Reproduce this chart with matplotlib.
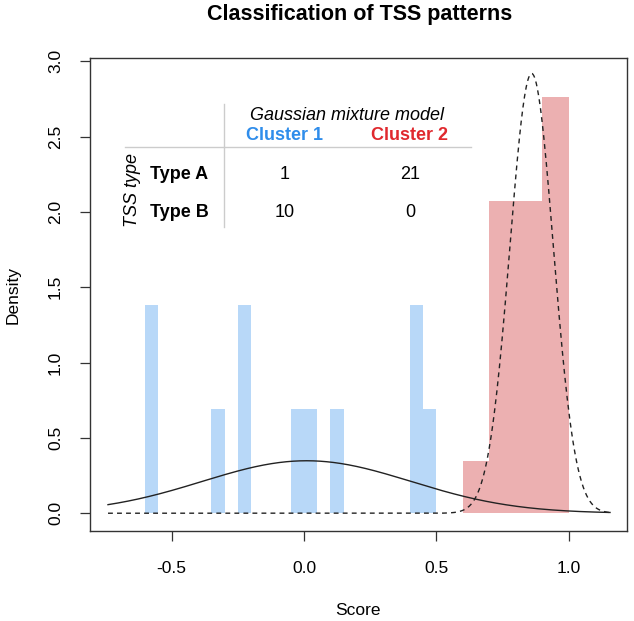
import numpy as np
import matplotlib
matplotlib.use("Agg")
import matplotlib.pyplot as plt

plt.rcParams['font.family'] = ['Liberation Sans', 'DejaVu Sans']

# Histogram of Cluster 1 scores (bin left edges, width, density)
c1_left = [-0.60, -0.35, -0.25, -0.05, 0.00, 0.10, 0.40, 0.45]
c1_width = 0.05
c1_density = [1.38, 0.69, 1.38, 0.69, 0.69, 0.69, 1.38, 0.69]

# Histogram of Cluster 2 scores
c2_left = [0.60, 0.70, 0.80, 0.90]
c2_width = 0.10
c2_density = [0.345, 2.07, 2.07, 2.76]

# Gaussian mixture components (weight, mean, sd)
comp1 = (0.344, 0.01, 0.394)
comp2 = (0.60, 0.86, 0.082)
curve_range = (-0.74, 1.156)

# Contingency table
col_labels = ["Cluster 1", "Cluster 2"]
row_labels = ["Type A", "Type B"]
counts = [[1, 21], [10, 0]]

x_ticks = [-0.5, 0.0, 0.5, 1.0]
y_ticks = [0.0, 0.5, 1.0, 1.5, 2.0, 2.5, 3.0]

blue_fill = "#B8D8F8"
red_fill = "#ECB0B1"
blue_txt = "#2F8DEB"
red_txt = "#E0292E"

fig = plt.figure(figsize=(6.34, 6.21), dpi=100)
ax = fig.add_axes([90/634, 1-530.7/621, (626.7-90)/634, (530.7-58.3)/621])

ax.bar(c1_left, c1_density, width=c1_width, align='edge', color=blue_fill, linewidth=0)
ax.bar(c2_left, c2_density, width=c2_width, align='edge', color=red_fill, linewidth=0)

def gauss(x, w, m, s):
    return w / (s * np.sqrt(2*np.pi)) * np.exp(-(x-m)**2 / (2*s*s))

xs = np.linspace(curve_range[0], curve_range[1], 600)
ax.plot(xs, gauss(xs, *comp1), color="#222222", lw=1.0)
ax.plot(xs, gauss(xs, *comp2), color="#222222", lw=1.0, dashes=(3.5, 3))

ax.set_xlim(-0.808, 1.219)
ax.set_ylim(-0.116, 3.02)

ax.set_xticks(x_ticks)
ax.set_xticklabels([f"{v:.1f}" for v in x_ticks])
ax.set_yticks(y_ticks)
ax.set_yticklabels([f"{v:.1f}" for v in y_ticks], rotation=90, va='center')
ax.tick_params(direction='out', length=7.5, width=0.9, color="#333333",
               labelsize=12.5)
ax.tick_params(axis='x', pad=14)
ax.tick_params(axis='y', pad=12)
for sp in ax.spines.values():
    sp.set_color("#333333")
    sp.set_linewidth(1.0)

ax.set_xlabel("Score", fontsize=12.5, labelpad=20)
ax.set_ylabel("Density", fontsize=12.5, labelpad=20)
fig.text(0.567, 1-20/621, "Classification of TSS patterns", ha='center', va='baseline',
         fontsize=15.5, fontweight='bold')

# Table overlay
fs = 13
ax.text(0.161, 2.610, "Gaussian mixture model", ha='center', va='baseline',
        fontsize=fs, fontstyle='italic')
col_x = [-0.072, 0.40]
col_c = [blue_txt, red_txt]
for x, lab, c in zip(col_x, col_labels, col_c):
    ax.text(x, 2.477, lab, ha='center', va='baseline', fontsize=fs,
            fontweight='bold', color=c)
ax.plot([-0.676, 0.63], [2.434, 2.434], color="#cccccc", lw=1.0)
ax.plot([-0.302, -0.302], [1.90, 2.715], color="#cccccc", lw=1.0)
row_y = [2.216, 1.968]
for y, lab, row in zip(row_y, row_labels, counts):
    ax.text(-0.582, y, lab, ha='left', va='baseline', fontsize=fs, fontweight='bold')
    for x, v in zip(col_x, row):
        ax.text(x, y, str(v), ha='center', va='baseline', fontsize=fs)
ax.text(-0.632, 2.146, "TSS type", rotation=90, rotation_mode='anchor',
        ha='center', va='baseline', fontsize=fs, fontstyle='italic')

fig.savefig("out.png", dpi=100)
